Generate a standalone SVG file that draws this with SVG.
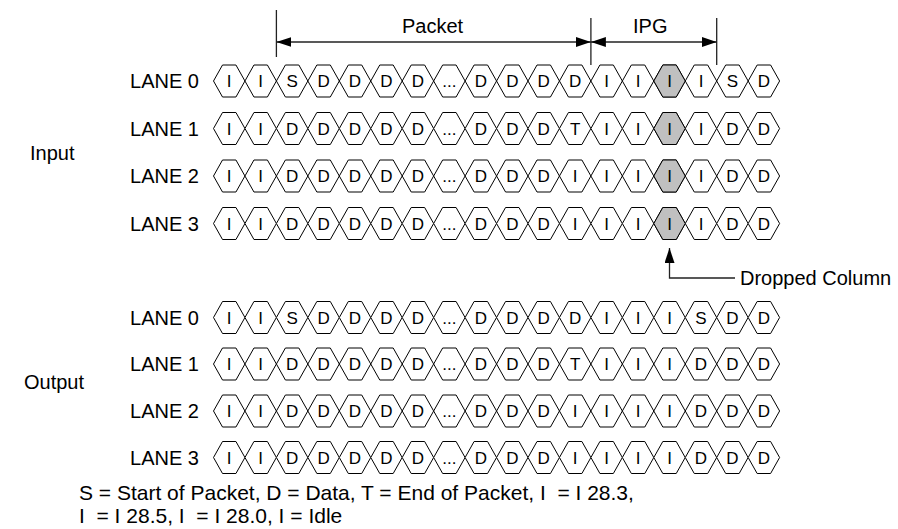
<svg xmlns="http://www.w3.org/2000/svg" xmlns:xlink="http://www.w3.org/1999/xlink" width="898" height="529" viewBox="0 0 898 529">
<style>
text{font-family:"Liberation Sans",Arial,Helvetica,sans-serif;fill:#000}
.lbl{font-size:20px}
.leg{font-size:21px}
.lane{font-size:20px;text-anchor:end}
.c{font-size:17px;text-anchor:middle}
.hx{fill:#fff;stroke:#000;stroke-width:1}
.gr{fill:#c0c0c0;stroke:#000;stroke-width:1}
.dim{stroke:#222;stroke-width:1.3;fill:none}
</style>
<defs>
<polygon id="h" points="0,0 9,-16 22.45,-16 31.45,0 22.45,16 9,16"/>
<g id="row">
<use href="#h" x="213.5"/><use href="#h" x="244.95"/><use href="#h" x="276.4"/><use href="#h" x="307.85"/><use href="#h" x="339.3"/><use href="#h" x="370.75"/><use href="#h" x="402.2"/><use href="#h" x="433.65"/><use href="#h" x="465.1"/><use href="#h" x="496.55"/><use href="#h" x="528"/><use href="#h" x="559.45"/><use href="#h" x="590.9"/><use href="#h" x="622.35"/><use href="#h" x="653.8"/><use href="#h" x="685.25"/><use href="#h" x="716.7"/><use href="#h" x="748.15"/>
</g>
<marker id="ar" viewBox="0 0 15 10" refX="15" refY="5" markerWidth="15" markerHeight="10" markerUnits="userSpaceOnUse" orient="auto-start-reverse"><path d="M0,0 L15,5 L0,10 Z" fill="#000"/></marker>
</defs>

<text class="lbl" x="30" y="160">Input</text>
<text class="lbl" x="24" y="389">Output</text>

<g id="in-lane0">
<text class="lane" x="199" y="88">LANE 0</text>
<use href="#row" class="hx" y="81"/>
<use href="#h" class="gr" x="653.8" y="81"/>
<text class="c" y="87"><tspan x="229.2">I</tspan><tspan x="260.7">I</tspan><tspan x="292.1">S</tspan><tspan x="323.6">D</tspan><tspan x="355">D</tspan><tspan x="386.5">D</tspan><tspan x="417.9">D</tspan><tspan x="449.4">...</tspan><tspan x="480.8">D</tspan><tspan x="512.3">D</tspan><tspan x="543.7">D</tspan><tspan x="575.2">D</tspan><tspan x="606.6">I</tspan><tspan x="638.1">I</tspan><tspan x="669.5">I</tspan><tspan x="701">I</tspan><tspan x="732.4">S</tspan><tspan x="763.9">D</tspan></text>
</g>
<g id="in-lane1">
<text class="lane" x="199" y="135.5">LANE 1</text>
<use href="#row" class="hx" y="128.5"/>
<use href="#h" class="gr" x="653.8" y="128.5"/>
<text class="c" y="134.5"><tspan x="229.2">I</tspan><tspan x="260.7">I</tspan><tspan x="292.1">D</tspan><tspan x="323.6">D</tspan><tspan x="355">D</tspan><tspan x="386.5">D</tspan><tspan x="417.9">D</tspan><tspan x="449.4">...</tspan><tspan x="480.8">D</tspan><tspan x="512.3">D</tspan><tspan x="543.7">D</tspan><tspan x="575.2">T</tspan><tspan x="606.6">I</tspan><tspan x="638.1">I</tspan><tspan x="669.5">I</tspan><tspan x="701">I</tspan><tspan x="732.4">D</tspan><tspan x="763.9">D</tspan></text>
</g>
<g id="in-lane2">
<text class="lane" x="199" y="183">LANE 2</text>
<use href="#row" class="hx" y="176"/>
<use href="#h" class="gr" x="653.8" y="176"/>
<text class="c" y="182"><tspan x="229.2">I</tspan><tspan x="260.7">I</tspan><tspan x="292.1">D</tspan><tspan x="323.6">D</tspan><tspan x="355">D</tspan><tspan x="386.5">D</tspan><tspan x="417.9">D</tspan><tspan x="449.4">...</tspan><tspan x="480.8">D</tspan><tspan x="512.3">D</tspan><tspan x="543.7">D</tspan><tspan x="575.2">I</tspan><tspan x="606.6">I</tspan><tspan x="638.1">I</tspan><tspan x="669.5">I</tspan><tspan x="701">I</tspan><tspan x="732.4">D</tspan><tspan x="763.9">D</tspan></text>
</g>
<g id="in-lane3">
<text class="lane" x="199" y="230.5">LANE 3</text>
<use href="#row" class="hx" y="223.5"/>
<use href="#h" class="gr" x="653.8" y="223.5"/>
<text class="c" y="229.5"><tspan x="229.2">I</tspan><tspan x="260.7">I</tspan><tspan x="292.1">D</tspan><tspan x="323.6">D</tspan><tspan x="355">D</tspan><tspan x="386.5">D</tspan><tspan x="417.9">D</tspan><tspan x="449.4">...</tspan><tspan x="480.8">D</tspan><tspan x="512.3">D</tspan><tspan x="543.7">D</tspan><tspan x="575.2">I</tspan><tspan x="606.6">I</tspan><tspan x="638.1">I</tspan><tspan x="669.5">I</tspan><tspan x="701">I</tspan><tspan x="732.4">D</tspan><tspan x="763.9">D</tspan></text>
</g>

<g id="out-lane0">
<text class="lane" x="199" y="324.5">LANE 0</text>
<use href="#row" class="hx" y="317.5"/>
<text class="c" y="323.5"><tspan x="229.2">I</tspan><tspan x="260.7">I</tspan><tspan x="292.1">S</tspan><tspan x="323.6">D</tspan><tspan x="355">D</tspan><tspan x="386.5">D</tspan><tspan x="417.9">D</tspan><tspan x="449.4">...</tspan><tspan x="480.8">D</tspan><tspan x="512.3">D</tspan><tspan x="543.7">D</tspan><tspan x="575.2">D</tspan><tspan x="606.6">I</tspan><tspan x="638.1">I</tspan><tspan x="669.5">I</tspan><tspan x="701">S</tspan><tspan x="732.4">D</tspan><tspan x="763.9">D</tspan></text>
</g>
<g id="out-lane1">
<text class="lane" x="199" y="371">LANE 1</text>
<use href="#row" class="hx" y="364"/>
<text class="c" y="370"><tspan x="229.2">I</tspan><tspan x="260.7">I</tspan><tspan x="292.1">D</tspan><tspan x="323.6">D</tspan><tspan x="355">D</tspan><tspan x="386.5">D</tspan><tspan x="417.9">D</tspan><tspan x="449.4">...</tspan><tspan x="480.8">D</tspan><tspan x="512.3">D</tspan><tspan x="543.7">D</tspan><tspan x="575.2">T</tspan><tspan x="606.6">I</tspan><tspan x="638.1">I</tspan><tspan x="669.5">I</tspan><tspan x="701">D</tspan><tspan x="732.4">D</tspan><tspan x="763.9">D</tspan></text>
</g>
<g id="out-lane2">
<text class="lane" x="199" y="418">LANE 2</text>
<use href="#row" class="hx" y="411"/>
<text class="c" y="417"><tspan x="229.2">I</tspan><tspan x="260.7">I</tspan><tspan x="292.1">D</tspan><tspan x="323.6">D</tspan><tspan x="355">D</tspan><tspan x="386.5">D</tspan><tspan x="417.9">D</tspan><tspan x="449.4">...</tspan><tspan x="480.8">D</tspan><tspan x="512.3">D</tspan><tspan x="543.7">D</tspan><tspan x="575.2">I</tspan><tspan x="606.6">I</tspan><tspan x="638.1">I</tspan><tspan x="669.5">I</tspan><tspan x="701">D</tspan><tspan x="732.4">D</tspan><tspan x="763.9">D</tspan></text>
</g>
<g id="out-lane3">
<text class="lane" x="199" y="464.5">LANE 3</text>
<use href="#row" class="hx" y="457.5"/>
<text class="c" y="463.5"><tspan x="229.2">I</tspan><tspan x="260.7">I</tspan><tspan x="292.1">D</tspan><tspan x="323.6">D</tspan><tspan x="355">D</tspan><tspan x="386.5">D</tspan><tspan x="417.9">D</tspan><tspan x="449.4">...</tspan><tspan x="480.8">D</tspan><tspan x="512.3">D</tspan><tspan x="543.7">D</tspan><tspan x="575.2">I</tspan><tspan x="606.6">I</tspan><tspan x="638.1">I</tspan><tspan x="669.5">I</tspan><tspan x="701">D</tspan><tspan x="732.4">D</tspan><tspan x="763.9">D</tspan></text>
</g>

<g id="connectors">
<line class="dim" x1="276.4" y1="10" x2="276.4" y2="57"/>
<line class="dim" x1="590.9" y1="18" x2="590.9" y2="65"/>
<line class="dim" x1="716.7" y1="18" x2="716.7" y2="65"/>
<line class="dim" x1="276.4" y1="42" x2="590.9" y2="42" marker-start="url(#ar)" marker-end="url(#ar)"/>
<line class="dim" x1="590.9" y1="42" x2="716.7" y2="42" marker-start="url(#ar)" marker-end="url(#ar)"/>
<path class="dim" d="M735,278 H669.5 V248" marker-end="url(#ar)"/>
</g>
<g id="labels">
<text class="lbl" x="402" y="33">Packet</text>
<text class="lbl" x="633" y="33">IPG</text>
<text class="lbl" x="740" y="285">Dropped Column</text>
</g>
<g id="legend">
<text class="leg" x="79" y="500" xml:space="preserve">S = Start of Packet, D = Data, T = End of Packet, I  = I 28.3,</text>
<text class="leg" x="79" y="523" xml:space="preserve">I  = I 28.5, I  = I 28.0, I = Idle</text>
</g>
</svg>
